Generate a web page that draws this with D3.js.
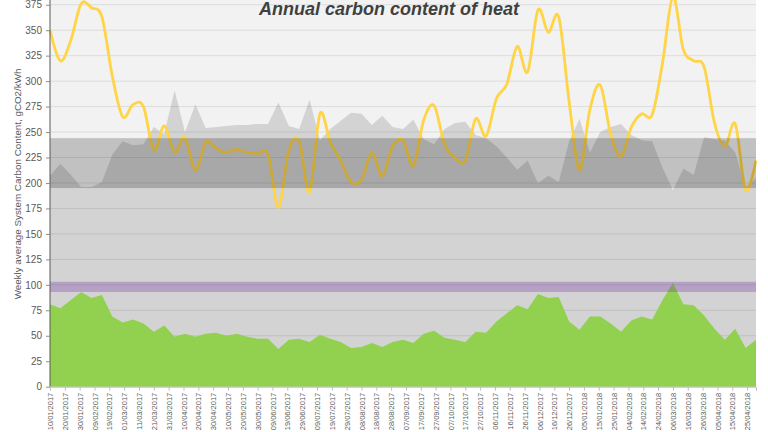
<!DOCTYPE html>
<html>
<head>
<meta charset="utf-8">
<script src="https://cdn.jsdelivr.net/npm/d3@7"></script>
<style>
  html, body { margin: 0; padding: 0; background: #ffffff; }
  svg { display: block; }
</style>
</head>
<body>
<svg id="chart" width="768" height="432"></svg>
<script>
// ---------------- DATA ----------------
const firstWeek = "10/01/2017";
const lastWeek = "01/05/2018";

const tickLabels = [
  "10/01/2017","20/01/2017","30/01/2017","09/02/2017","19/02/2017","01/03/2017",
  "11/03/2017","21/03/2017","31/03/2017","10/04/2017","20/04/2017","30/04/2017",
  "10/05/2017","20/05/2017","30/05/2017","09/06/2017","19/06/2017","29/06/2017",
  "09/07/2017","19/07/2017","29/07/2017","08/08/2017","18/08/2017","28/08/2017",
  "07/09/2017","17/09/2017","27/09/2017","07/10/2017","17/10/2017","27/10/2017",
  "06/11/2017","16/11/2017","26/11/2017","06/12/2017","16/12/2017","26/12/2017",
  "05/01/2018","15/01/2018","25/01/2018","04/02/2018","14/02/2018","24/02/2018",
  "06/03/2018","16/03/2018","26/03/2018","05/04/2018","15/04/2018","25/04/2018"
];

const yTicks = [0,25,50,75,100,125,150,175,200,225,250,275,300,325,350,375];

// weekly heat carbon content (green area)
const heatValues = [81,77,85,93,87,90,69,63,66,62,54,60,49,52,49,52,53,50,52,49,47,47,37,46,47,44,51,47,44,38,39,43,39,44,46,43,52,55,48,46,44,54,53,64,72,80,76,91,87,88,64,56,69,69,62,54,65,69,66,85,102,81,80,70,57,46,57,38,46];

// weekly grid carbon content (light grey area)
const gridValues = [207,219,208,196,196,201,228,241,237,238,255,248,291,250,277,254,255,256,257,257,258,258,279,256,253,282,242,253,261,269,268,257,266,255,253,262,243,238,253,259,260,247,244,236,225,213,222,200,207,201,241,263,230,250,255,258,247,242,241,215,193,214,208,245,243,242,230,196,205];

// weekly marginal carbon content (yellow line)
const marginalValues = [350,320,340,376,372,363,305,265,277,275,232,256,230,245,212,240,234,230,233,230,229,228,176,232,241,191,268,240,222,201,203,230,207,236,242,217,262,276,238,225,222,263,246,283,297,334,309,370,348,363,280,213,272,296,248,226,255,268,267,318,383,331,320,314,259,236,258,193,222];

// reference bands
const boilerBand = [195, 244];
const heatBand = [93, 103];

const titleText = "Annual carbon content of heat";
const yTitle = "Weekly average System Carbon Content, gCO2/kWh";

// ---------------- CHART ----------------
const parse = d3.utcParse("%d/%m/%Y");
const fmt = d3.utcFormat("%d/%m/%Y");
const start = parse(firstWeek), end = parse(lastWeek);
const weeks = d3.utcDay.range(start, d3.utcDay.offset(end, 1), 7);

const heat = weeks.map((d, i) => ({date: d, v: heatValues[i]}));
const grid = weeks.map((d, i) => ({date: d, v: gridValues[i]}));
const marg = weeks.map((d, i) => ({date: d, v: marginalValues[i]}));

const left = 50, right = 756, bottom = 386.7;
const x = d3.scaleUtc().domain([start, end]).range([left, right]);
const y = d3.scaleLinear().domain([0, 400]).range([bottom, bottom - 400 * 1.0186]);

const svg = d3.select("#chart");

svg.append("rect").attr("width", 768).attr("height", 432).attr("fill", "#ffffff");

// plot background
svg.append("rect")
  .attr("x", left).attr("y", y(400))
  .attr("width", right - left).attr("height", bottom - y(400))
  .attr("fill", "#f2f2f2");

// grey area
svg.append("path")
  .datum(grid)
  .attr("fill", "#d3d3d3")
  .attr("d", d3.area().x(d => x(d.date)).y0(y(0)).y1(d => y(d.v)));

// gridlines
svg.append("g")
  .selectAll("line")
  .data(yTicks.filter(t => t > 0))
  .join("line")
  .attr("x1", left).attr("x2", right)
  .attr("y1", d => y(d)).attr("y2", d => y(d))
  .attr("stroke", "rgba(0,0,0,0.09)")
  .attr("stroke-width", 1);

// green area
svg.append("path")
  .datum(heat)
  .attr("fill", "#92d050")
  .attr("d", d3.area().x(d => x(d.date)).y0(y(0)).y1(d => y(d.v)));

// yellow smoothed line
svg.append("path")
  .datum(marg)
  .attr("fill", "none")
  .attr("stroke", "#ffd445")
  .attr("stroke-width", 2.8)
  .attr("stroke-linejoin", "round")
  .attr("d", d3.line().x(d => x(d.date)).y(d => y(d.v)).curve(d3.curveCatmullRom.alpha(0)));

// bands on top
svg.append("rect")
  .attr("x", left).attr("width", right - left)
  .attr("y", y(boilerBand[1])).attr("height", y(boilerBand[0]) - y(boilerBand[1]))
  .attr("fill", "rgba(0,0,0,0.2)");

svg.append("rect")
  .attr("x", left).attr("width", right - left)
  .attr("y", y(heatBand[1])).attr("height", y(heatBand[0]) - y(heatBand[1]))
  .attr("fill", "rgba(112,48,160,0.3)");

// y axis
const yAxis = d3.axisLeft(y).tickValues(yTicks).tickSize(4).tickPadding(4);
const gy = svg.append("g").attr("transform", `translate(${left},0)`).call(yAxis);
gy.select(".domain").attr("stroke", "#595959").attr("d", `M0,${y(400)}V${bottom}`);
gy.selectAll(".tick line").attr("stroke", "#8c8c8c");
gy.selectAll(".tick text")
  .attr("fill", "#595959")
  .style("font-family", "'Liberation Sans', Arial, sans-serif")
  .style("font-size", "10px");

// x axis
const tickDates = tickLabels.map(parse);
const xAxis = d3.axisBottom(x).tickValues(tickDates).tickFormat(fmt).tickSize(4).tickPadding(3);
const gx = svg.append("g").attr("transform", `translate(0,${bottom})`).call(xAxis);
gx.select(".domain").attr("stroke", "#bfbfbf");
gx.selectAll(".tick line").attr("stroke", "#bfbfbf");
gx.selectAll(".tick text")
  .attr("fill", "#595959")
  .style("font-family", "'Liberation Sans', Arial, sans-serif")
  .style("font-size", "7.5px")
  .attr("text-anchor", "end")
  .attr("transform", "rotate(-90)")
  .attr("x", -6)
  .attr("y", 0)
  .attr("dy", "0.35em");

// y title
svg.append("text")
  .attr("transform", `translate(21,${184}) rotate(-90)`)
  .attr("text-anchor", "middle")
  .attr("fill", "#595959")
  .style("font-family", "'Liberation Sans', Arial, sans-serif")
  .style("font-size", "9.8px")
  .text(yTitle);

// title
svg.append("text")
  .attr("x", 389).attr("y", 15)
  .attr("text-anchor", "middle")
  .attr("fill", "#404040")
  .style("font-family", "'Liberation Sans', Arial, sans-serif")
  .style("font-size", "18px")
  .style("font-weight", "bold")
  .style("font-style", "italic")
  .text(titleText);
</script>
</body>
</html>
